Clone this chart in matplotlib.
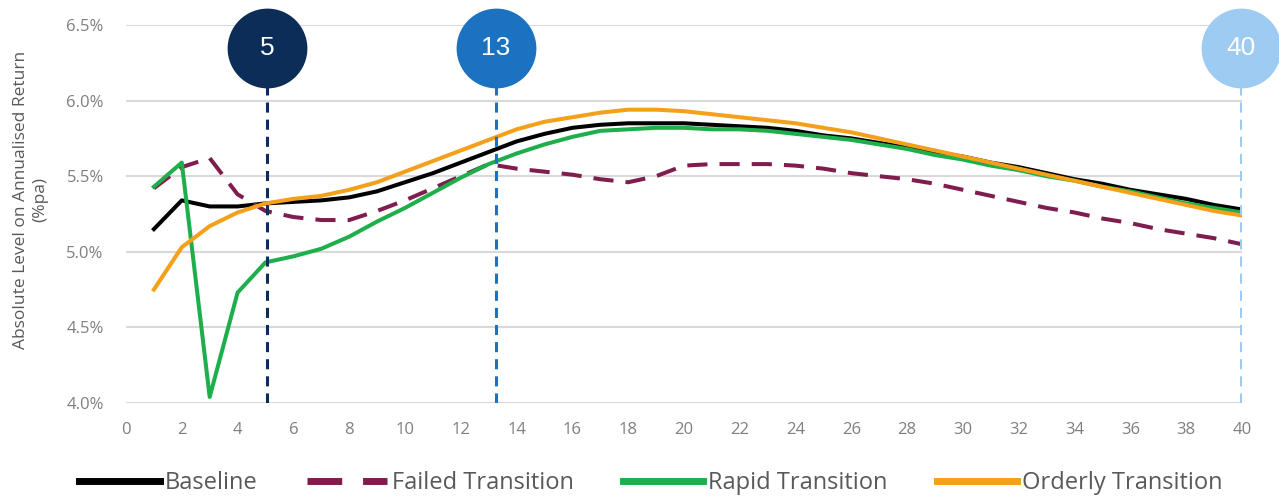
import matplotlib.pyplot as plt
import numpy as np

plt.rcParams['font.family'] = ['Open Sans', 'DejaVu Sans']

# projection year
years = list(range(1, 41))

# absolute level on annualised return, % pa
baseline = [5.15, 5.34, 5.30, 5.30, 5.32, 5.33, 5.34, 5.36, 5.40, 5.46,
            5.52, 5.59, 5.66, 5.73, 5.78, 5.82, 5.84, 5.85, 5.85, 5.85,
            5.84, 5.83, 5.82, 5.80, 5.77, 5.75, 5.72, 5.69, 5.66, 5.63,
            5.59, 5.56, 5.52, 5.48, 5.45, 5.41, 5.38, 5.35, 5.31, 5.28]
failed = [5.42, 5.56, 5.62, 5.38, 5.27, 5.23, 5.21, 5.21, 5.27, 5.34,
          5.42, 5.50, 5.58, 5.55, 5.53, 5.51, 5.48, 5.46, 5.50, 5.57,
          5.58, 5.58, 5.58, 5.57, 5.55, 5.52, 5.50, 5.48, 5.45, 5.41,
          5.37, 5.33, 5.29, 5.26, 5.22, 5.19, 5.15, 5.12, 5.09, 5.05]
rapid = [5.43, 5.59, 4.04, 4.73, 4.93, 4.97, 5.02, 5.10, 5.20, 5.29,
         5.39, 5.49, 5.58, 5.65, 5.71, 5.76, 5.80, 5.81, 5.82, 5.82,
         5.81, 5.81, 5.80, 5.78, 5.76, 5.74, 5.71, 5.68, 5.64, 5.61,
         5.57, 5.54, 5.50, 5.47, 5.43, 5.40, 5.36, 5.32, 5.29, 5.26]
orderly = [4.75, 5.03, 5.17, 5.26, 5.32, 5.35, 5.37, 5.41, 5.46, 5.53,
           5.60, 5.67, 5.74, 5.81, 5.86, 5.89, 5.92, 5.94, 5.94, 5.93,
           5.91, 5.89, 5.87, 5.85, 5.82, 5.79, 5.75, 5.71, 5.67, 5.63,
           5.59, 5.55, 5.51, 5.47, 5.43, 5.39, 5.35, 5.31, 5.27, 5.24]

# highlighted horizons (position as drawn, label)
marker_x = [5.05, 13.25, 39.95]
marker_labels = ['5', '13', '40']
marker_colors = ['#0c2d57', '#1b72c0', '#9dcbf1']

fig = plt.figure(figsize=(12.79, 5.0), dpi=100)
ax = fig.add_axes([0.0985, 0.194, 0.8725, 0.756])

lw = 2.9
ax.plot(years, baseline, color='black', lw=lw, label='Baseline', zorder=3)
ax.plot(years, failed, color='#7f1d4e', lw=lw, dashes=(5, 3),
        label='Failed Transition', zorder=3)
ax.plot(years, rapid, color='#1eae4b', lw=lw, label='Rapid Transition', zorder=3)
ax.plot(years, orderly, color='#f5a01a', lw=lw, label='Orderly Transition', zorder=3)

circle_y = 6.35
for x, lab, c in zip(marker_x, marker_labels, marker_colors):
    ax.plot([x, x], [4.0, 6.27], color=c, lw=2.2, dashes=(3.3, 2.3), zorder=4)
    ax.scatter([x], [circle_y], s=3300, color=c, zorder=5, clip_on=False,
               linewidths=0)
    ax.text(x, circle_y, lab, color='white', fontsize=19, ha='center',
            va='center', zorder=6, clip_on=False, family='Liberation Sans')

ax.set_xlim(0, 40)
ax.set_ylim(4.0, 6.5)
ax.set_xticks(np.arange(0, 41, 2))
yt = np.arange(4.0, 6.51, 0.5)
ax.set_yticks(yt)
ax.set_yticklabels([f'{v:.1f}%' for v in yt])
ax.grid(axis='y', color='#d9d9d9', lw=1.5)
ax.set_axisbelow(True)
for s in ax.spines.values():
    s.set_visible(False)
ax.tick_params(axis='both', length=0, labelsize=12, labelcolor='#7f7f7f')
ax.tick_params(axis='y', pad=16)
ax.tick_params(axis='x', pad=14)

fig.text(0.024, 0.6, 'Absolute Level on Annualised Return\n(%pa)', rotation=90,
         ha='center', va='center', fontsize=12.5, color='#595959',
         linespacing=1.3)

leg = fig.legend(loc='center', bbox_to_anchor=(0.509, 0.034), ncol=4,
                 frameon=False, fontsize=17, handlelength=3.4,
                 handletextpad=0.2, columnspacing=2.1, labelcolor='#595959')
for h in leg.get_lines():
    h.set_linewidth(5)

fig.savefig('out.png', dpi=100)
